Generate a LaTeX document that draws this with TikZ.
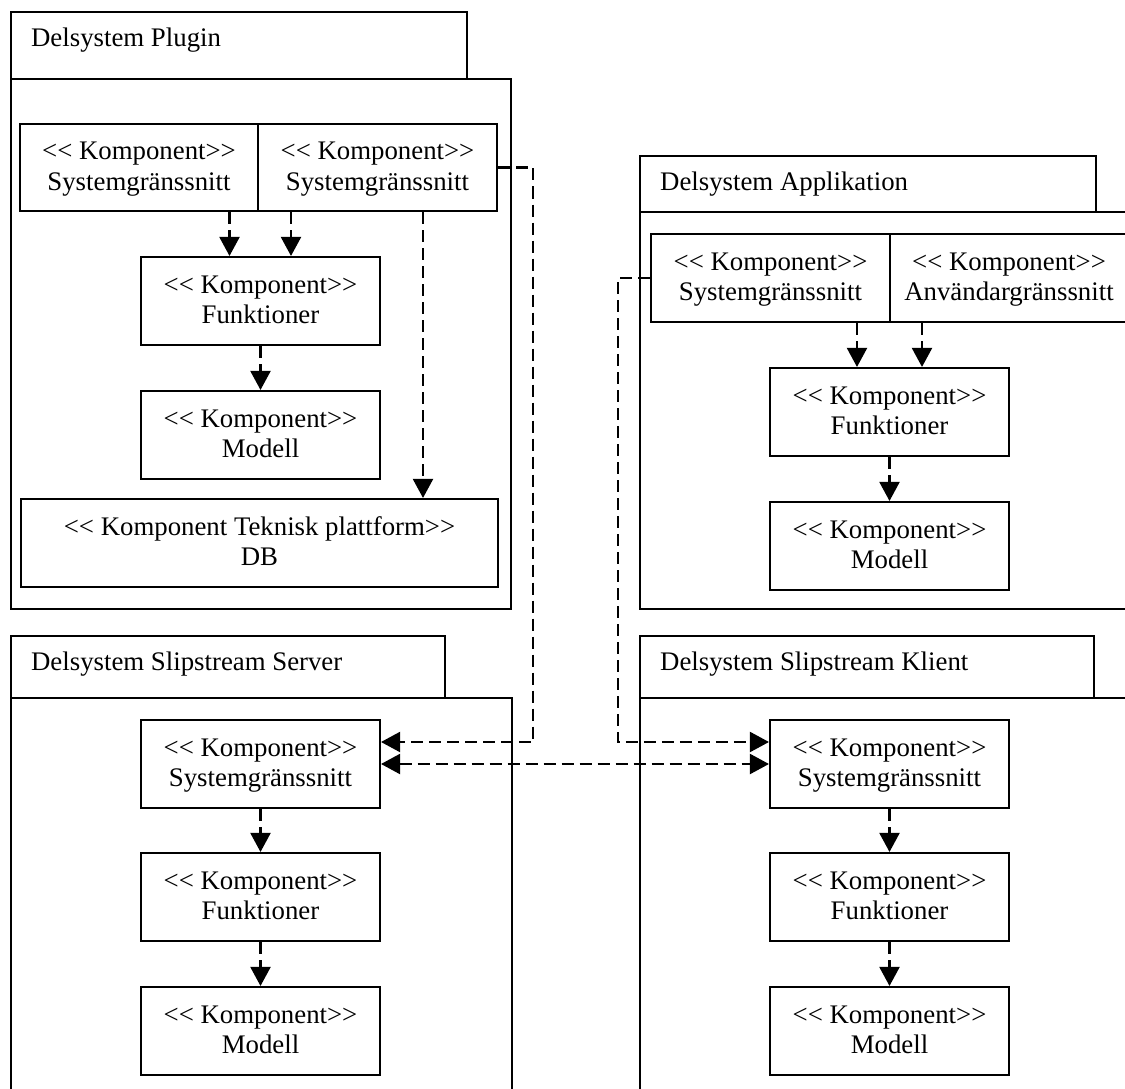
\documentclass[tikz,border=0pt]{standalone}
\usepackage{fontspec}
\setmainfont{Liberation Serif}
\usetikzlibrary{arrows.meta}

% strut giving every component label the same two baselines
\newcommand\boxstrut{\rule[-7pt]{0pt}{28.5pt}}
% the kerns keep << and >> as two separate angle brackets
\newcommand\komp[2][Komponent]{\boxstrut<\kern0pt< #1>\kern0pt>\\\boxstrut #2}

\begin{document}
\begin{tikzpicture}[x=1pt,y=-1pt,
  >={Triangle[length=19pt,width=20pt]},
  pkg/.style={draw, rectangle, line width=2.1pt, inner sep=0pt},
  comp/.style={draw, rectangle, line width=2.1pt, inner sep=0pt, align=center,
    font=\fontsize{26.8}{30.5}\selectfont, minimum width=239pt, minimum height=88pt},
  pkgtitle/.style={inner sep=0pt, anchor=base west, font=\fontsize{26.8}{30.5}\selectfont},
  dep/.style={line width=2.1pt, dash pattern=on 12pt off 6pt, ->},
  depboth/.style={line width=2.1pt, dash pattern=on 12pt off 6pt, <->}]

\useasboundingbox (0,0) rectangle (1125,1089);
\clip (0,0) rectangle (1125,1089);

% ---------- Delsystem Plugin ----------
\node[pkg, minimum width=456pt, minimum height=67pt] (pTab) at (239,45.5) {};
\node[pkg, minimum width=500pt, minimum height=530pt] (pBody) at (261,344) {};
\node[pkgtitle] (pTitle) at ([xshift=21pt,yshift=-36pt]pTab.north west) {Delsystem Plugin};

\node[comp, minimum width=238pt, minimum height=87pt] (pSys1) at (139,167.5) {\komp{Systemgränssnitt}};
\node[comp, minimum height=87pt] (pSys2) at (377.5,167.5) {\komp{Systemgränssnitt}};
\node[comp] (pFunk) at (260.5,301) {\komp{Funktioner}};
\node[comp] (pMod) at (260.5,435) {\komp{Modell}};
\node[comp, minimum width=477pt] (pDB) at (259.5,543) {\komp[Komponent Teknisk plattform]{DB}};

% ---------- Delsystem Applikation ----------
\node[pkg, minimum width=456pt, minimum height=56pt] (aTab) at (868,184) {};
\node[pkg, minimum width=495pt, minimum height=397pt] (aBody) at (887.5,410.5) {};
\node[pkgtitle] (aTitle) at ([xshift=21pt,yshift=-36pt]aTab.north west) {Delsystem Applikation};

\node[comp] (aSys) at (770.5,278) {\komp{Systemgränssnitt}};
\node[comp, minimum width=238pt] (aUI) at (1009,278) {\komp{Användargränssnitt}};
\node[comp] (aFunk) at (889.5,412) {\komp{Funktioner}};
\node[comp] (aMod) at (889.5,546) {\komp{Modell}};

% ---------- Delsystem Slipstream Server ----------
\node[pkg, minimum width=434pt, minimum height=62pt] (sTab) at (228,667) {};
\node[pkg, minimum width=501pt, minimum height=412pt] (sBody) at (261.5,904) {};
\node[pkgtitle] (sTitle) at ([xshift=21pt,yshift=-36pt]sTab.north west) {Delsystem Slipstream Server};

\node[comp] (sSys) at (260.5,764) {\komp{Systemgränssnitt}};
\node[comp] (sFunk) at (260.5,897) {\komp{Funktioner}};
\node[comp] (sMod) at (260.5,1031) {\komp{Modell}};

% ---------- Delsystem Slipstream Klient ----------
\node[pkg, minimum width=454pt, minimum height=62pt] (kTab) at (867,667) {};
\node[pkg, minimum width=495pt, minimum height=412pt] (kBody) at (887.5,904) {};
\node[pkgtitle] (kTitle) at ([xshift=21pt,yshift=-36pt]kTab.north west) {Delsystem Slipstream Klient};

\node[comp] (kSys) at (889.5,764) {\komp{Systemgränssnitt}};
\node[comp] (kFunk) at (889.5,897) {\komp{Funktioner}};
\node[comp] (kMod) at (889.5,1031) {\komp{Modell}};

% ---------- dependencies inside the subsystems ----------
\coordinate (pA1) at ([xshift=-31pt]pFunk.north);
\coordinate (pA2) at ([xshift=30.5pt]pFunk.north);
\coordinate (pA3) at ([xshift=45.5pt]pSys2.south);
\draw[dep] (pA1 |- pSys1.south) -- (pA1);
\draw[dep] (pA2 |- pSys2.south) -- (pA2);
\draw[dep] (pA3) -- (pA3 |- pDB.north);
\draw[dep] (pFunk.south) -- (pMod.north);

\coordinate (aA1) at ([xshift=-32.5pt]aFunk.north);
\coordinate (aA2) at ([xshift=32.5pt]aFunk.north);
\draw[dep] (aA1 |- aSys.south) -- (aA1);
\draw[dep] (aA2 |- aUI.south) -- (aA2);
\draw[dep] (aFunk.south) -- (aMod.north);

\draw[dep] (sSys.south) -- (sFunk.north);
\draw[dep] (sFunk.south) -- (sMod.north);
\draw[dep] (kSys.south) -- (kFunk.north);
\draw[dep] (kFunk.south) -- (kMod.north);

% ---------- dependencies between the subsystems ----------
\draw[dep] (pSys2.east) -- ++(35,0) |- ([yshift=22pt]sSys.east);
\draw[dep] (aSys.west) -- ++(-32,0) |- ([yshift=22pt]kSys.west);
\draw[depboth] (sSys.east) -- (kSys.west);

\end{tikzpicture}
\end{document}
